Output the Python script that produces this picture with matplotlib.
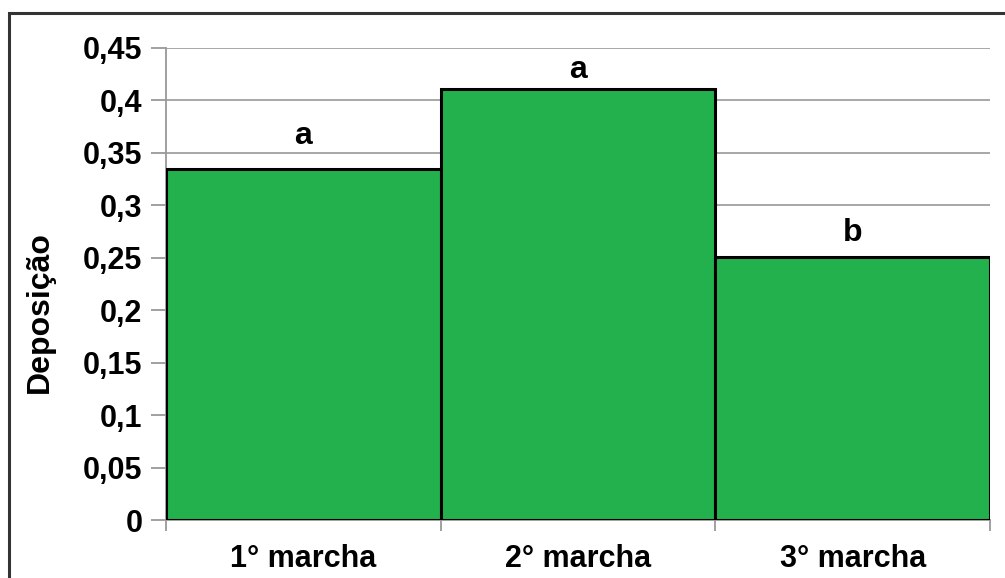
import matplotlib.pyplot as plt
from matplotlib.patches import Rectangle
from matplotlib.ticker import FuncFormatter

plt.rcParams['font.family'] = ['Liberation Sans', 'DejaVu Sans']
plt.rcParams['font.weight'] = 'bold'

# dados
categorias = ['1° marcha', '2° marcha', '3° marcha']
deposicao = [0.335, 0.411, 0.251]
letras = ['a', 'a', 'b']
yticks = [0, 0.05, 0.1, 0.15, 0.2, 0.25, 0.3, 0.35, 0.4, 0.45]

# distância da letra até o topo da barra (layout)
desloc = [0.017, 0.004, 0.008]

fig = plt.figure(figsize=(10.05, 5.78), dpi=100)
ax = fig.add_axes([166 / 1005, 1 - 520 / 578, (990 - 166) / 1005, (520 - 48) / 578])

# moldura externa (cortada na direita e embaixo)
fig.patches.append(Rectangle((9 / 1005, -0.05), 1.1, 1 - 13 / 578 + 0.05,
                             transform=fig.transFigure, fill=False,
                             edgecolor='#333333', linewidth=2.2))

x = range(len(categorias))
ax.bar(x, deposicao, width=1.0, color='#22B14C', edgecolor='black',
       linewidth=2.2, zorder=3)

for i, (v, l) in enumerate(zip(deposicao, letras)):
    ax.text(i, v + desloc[i], l, ha='center', va='bottom', fontsize=23,
            fontweight='bold', zorder=4)

ax.set_xlim(-0.5, 2.5)
ax.set_ylim(0, 0.45)
ax.set_yticks(yticks)
ax.yaxis.set_major_formatter(FuncFormatter(lambda v, p: ('%g' % round(v, 2)).replace('.', ',')))
ax.set_xticks([-0.5, 0.5, 1.5, 2.5])
ax.set_xticklabels([])
ax.set_xticks(list(x), minor=True)
ax.set_xticklabels(categorias, minor=True, fontsize=22, fontweight='bold')
ax.tick_params(axis='x', which='minor', length=0, pad=17)
ax.tick_params(axis='x', which='major', length=8, color='#999999', width=1.3)
ax.tick_params(axis='y', length=11, color='#999999', width=1.3, labelsize=22, pad=6)

ax.grid(axis='y', color='#A0A0A0', linewidth=1.3, zorder=0)
for s in ['top', 'right']:
    ax.spines[s].set_visible(False)
for s in ['left', 'bottom']:
    ax.spines[s].set_color('#999999')
    ax.spines[s].set_linewidth(1.3)

ax.set_ylabel('Deposição', fontsize=23, fontweight='bold')
ax.yaxis.set_label_coords(-0.153, 0.44)
ax.yaxis.label.set_va('center')

fig.savefig('out.png', dpi=100)
